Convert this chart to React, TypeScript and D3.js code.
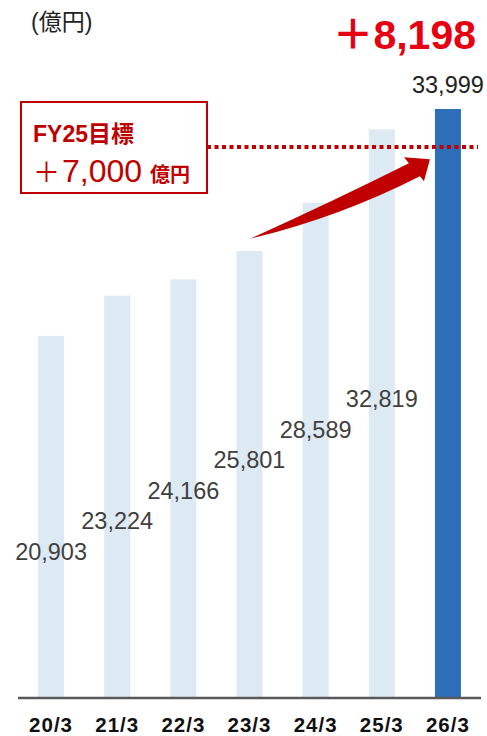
import { scaleBand, scaleLinear, path } from 'd3'

const categories = ['20/3', '21/3', '22/3', '23/3', '24/3', '25/3', '26/3']
const values = [20903, 23224, 24166, 25801, 28589, 32819, 33999]
const valueLabels = ['20,903', '23,224', '24,166', '25,801', '28,589', '32,819', '33,999']
const unitLabel = '(億円)'
const increaseLabel = '＋8,198'
const targetTitle = 'FY25目標'
const targetPlus = '＋'
const targetAmount = '7,000'
const targetUnit = '億円'
const targetLineValue = 31800
// arrow runs from the 23/3 column up to the last column
const arrowFrom = { cat: '23/3', value: 26500 }
const arrowTo = { cat: '26/3', value: 31100 }

const width = 487,
      height = 736,
      baseline = 698,
      font = '"Liberation Sans", Arial, "Noto Sans CJK JP", sans-serif',
      red = '#c00000'

export default function App() {
  const xScale = scaleBand<string>()
    .domain(categories)
    .range([18, 481])
    .paddingInner(0.607)
    .paddingOuter(0.3035)

  const yScale = scaleLinear()
    .domain([0, 34000])
    .range([baseline, 109])

  // stagger of the in-bar value labels
  const labelY = scaleLinear().domain([0, 5]).range([560, 407])

  const last = values.length - 1
  const cx = (c: string) => (xScale(c) ?? 0) + xScale.bandwidth() / 2

  // arrow geometry
  const T = [cx(arrowFrom.cat), yScale(arrowFrom.value)]
  const P = [(xScale(arrowTo.cat) ?? 0) - 5, yScale(arrowTo.value)]
  const upJ = [P[0] - 21, P[1] + 4]
  const loJ = [P[0] - 10, P[1] + 17]
  const arrow = path()
  arrow.moveTo(T[0], T[1])
  arrow.quadraticCurveTo((T[0] + upJ[0]) / 2, (T[1] + upJ[1]) / 2 + 2, upJ[0], upJ[1])
  arrow.lineTo(P[0] - 26, P[1] - 2)
  arrow.lineTo(P[0], P[1])
  arrow.lineTo(P[0] - 6, P[1] + 22)
  arrow.lineTo(loJ[0], loJ[1])
  arrow.quadraticCurveTo((T[0] + loJ[0]) / 2 + 4, (T[1] + loJ[1]) / 2 + 10, T[0], T[1])
  arrow.closePath()

  const targetY = yScale(targetLineValue)

  return (
    <svg width={width} height={height} style={{ position: 'absolute', left: 0, top: 0, background: '#fff' }} fontFamily={font}>
      <text x={31} y={30} fontSize={23} fill='#222'>{unitLabel}</text>
      <text x={476} y={49} fontSize={41} fontWeight='bold' fill='#e60012' textAnchor='end'>{increaseLabel}</text>

      <g className='bars'>
        {values.map((v, i) => (
          <rect
            key={categories[i]}
            x={xScale(categories[i])}
            y={yScale(v)}
            width={xScale.bandwidth()}
            height={baseline - yScale(v)}
            fill={i === last ? '#2e6eb9' : '#dde9f3'}
          />
        ))}
      </g>

      <line x1={18} x2={481} y1={baseline} y2={baseline} stroke='#595959' strokeWidth={2.5} />

      <g className='axis bottom'>
        {categories.map(c => (
          <text key={c} x={cx(c)} y={732} textAnchor='middle' fontSize={20.5} fontWeight='bold' letterSpacing={1} fill='#111'>{c}</text>
        ))}
      </g>

      <g className='labels'>
        {valueLabels.map((l, i) => (
          <text
            key={l}
            x={cx(categories[i])}
            y={i === last ? yScale(values[i]) - 16 : labelY(i)}
            textAnchor='middle'
            fontSize={23.5}
            fill={i === last ? '#222' : '#404040'}
          >{l}</text>
        ))}
      </g>

      <line x1={207} x2={478} y1={targetY} y2={targetY} stroke={red} strokeWidth={4} strokeDasharray='4 3.5' />
      <path d={arrow.toString()} fill={red} />

      <rect x={21} y={102} width={186} height={91} fill='#fff' stroke={red} strokeWidth={2} />
      <text x={33} y={142} fontSize={23} fontWeight='bold' fill={red}>{targetTitle}</text>
      <text x={33} y={182} fontSize={27} fill={red}>{targetPlus}</text>
      <text x={62} y={182} fontSize={32} fill={red}>{targetAmount}</text>
      <text x={150} y={182} fontSize={20} fontWeight='bold' fill={red}>{targetUnit}</text>
    </svg>
  )
}
